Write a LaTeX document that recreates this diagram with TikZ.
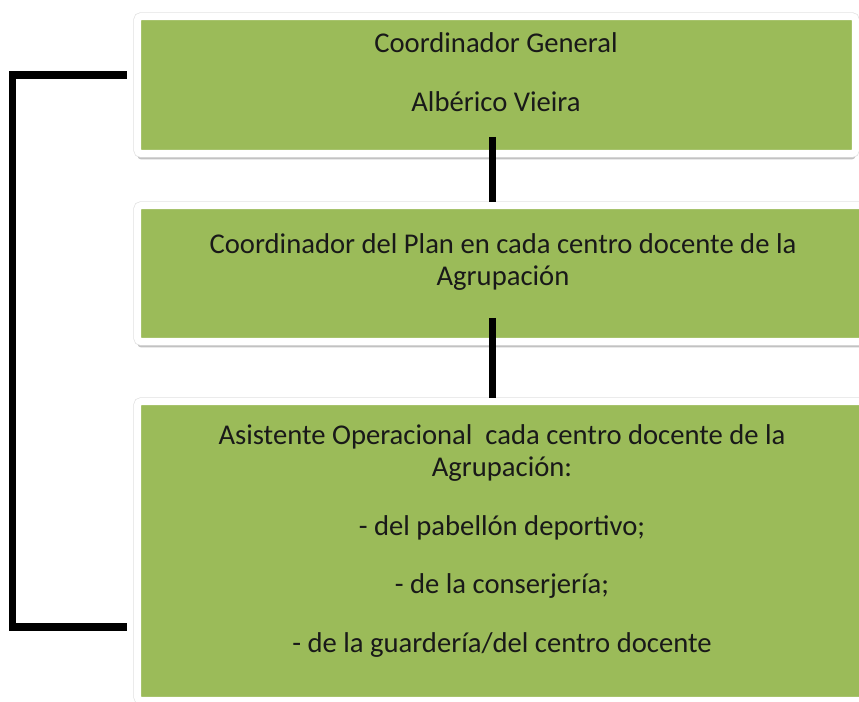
\documentclass[tikz,border=0pt]{standalone}
\usepackage{fontspec}
\setmainfont{Carlito}
\usetikzlibrary{shadows}
\definecolor{boxgreen}{HTML}{9BBB59}

\begin{document}
\begin{tikzpicture}[x=0.02cm, y=-0.02cm,
  box/.style={fill=boxgreen, draw=white, line width=4pt, rounded corners=2pt,
    drop shadow={shadow xshift=0pt, shadow yshift=-3.4pt, opacity=0.4, fill=black!60},
    preaction={draw=black!12, line width=4.8pt}},
  txt/.style={align=center, inner sep=0pt, text=black!90,
    font=\fontsize{16.3}{18.2}\selectfont},
  conn/.style={line width=4pt, black}]
\useasboundingbox (0,0) rectangle (859,702);
\clip (0,0) rectangle (859,702);

% boxes
\node[box, minimum width=14.36cm, minimum height=2.74cm] (gen) at (496.5,85) {};
\node[box, minimum width=14.62cm, minimum height=2.72cm] (plan) at (503,273.5) {};
\node[box, minimum width=14.58cm, minimum height=5.98cm] (asis) at (502,551) {};

% texts
\node[txt] (gentxt) at (496,72) {Coordinador General\\[15.3pt] Albérico Vieira};
\node[txt] (plantxt) at (503,262) {Coordinador del Plan en cada centro docente de la\\ Agrupación};
\node[txt] (asistxt) at (502,541) {Asistente Operacional\ \ cada centro docente de la\\ Agrupación:\\[15.3pt]
  - del pabellón deportivo;\\[15.3pt] - de la conserjería;\\[15.3pt] - de la guardería/del centro docente};

% connectors
\coordinate (j1) at (492.5,137);
\coordinate (j2) at (492.5,318);
\coordinate (l1) at (12.5,75);
\coordinate (l2) at (12.5,627);
\draw[conn] (j1) -- (j1 |- plan.north);
\draw[conn] (j2) -- (j2 |- asis.north);
\draw[conn] ([xshift=-4.3pt]gen.west |- l1) -- (l1) -- (l2) -- ([xshift=-4.3pt]asis.west |- l2);
\end{tikzpicture}
\end{document}
